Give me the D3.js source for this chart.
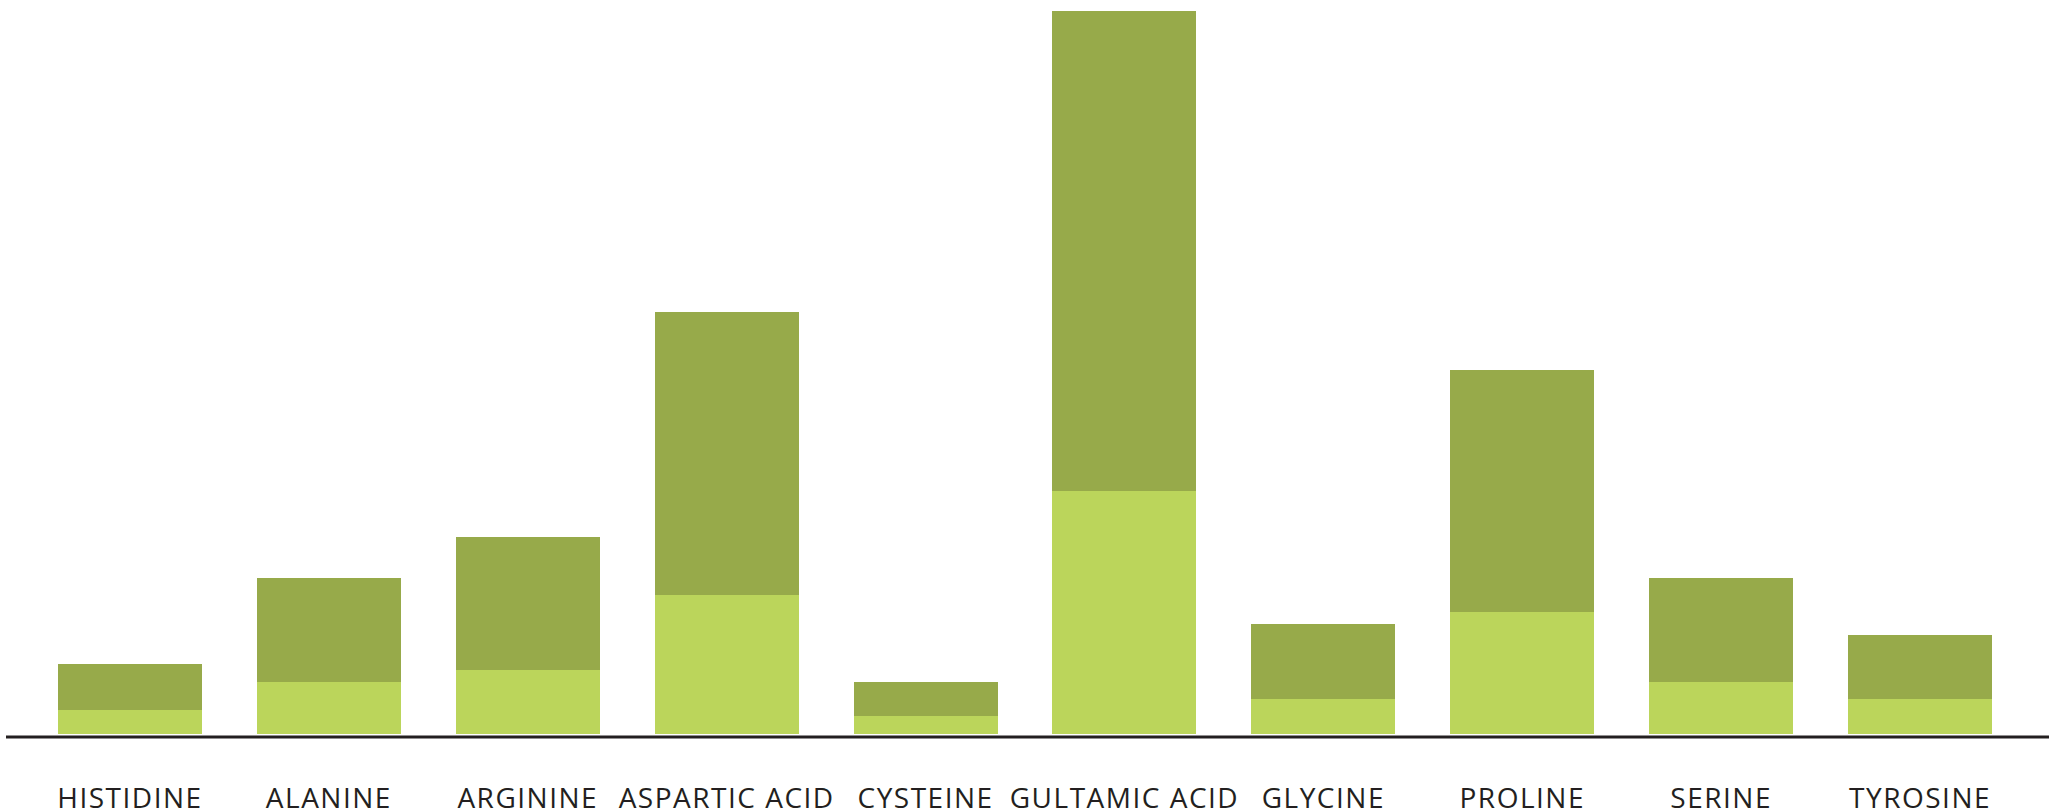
<!DOCTYPE html>
<html>
<head>
<meta charset="utf-8">
<script src="https://cdn.jsdelivr.net/npm/d3@7"></script>
<style>
  html, body { margin: 0; padding: 0; background: #ffffff; }
  svg { display: block; }
  .label { font-family: "Open Sans", "DejaVu Sans", sans-serif; font-size: 28px; fill: #231f20; letter-spacing: 1.5px; }
</style>
</head>
<body>
<svg id="chart" width="2049" height="812"></svg>
<script>
// Amino acids shown along the x axis
const categories = ["HISTIDINE", "ALANINE", "ARGININE", "ASPARTIC ACID", "CYSTEINE",
                    "GULTAMIC ACID", "GLYCINE", "PROLINE", "SERINE", "TYROSINE"];
// Lower (light) segment of each stack
const baseValues = [2.4, 5.2, 6.4, 13.9, 1.8, 24.3, 3.5, 12.2, 5.2, 3.5];
// Upper (dark) segment of each stack
const topValues = [4.6, 10.4, 13.3, 28.3, 3.4, 48.0, 7.5, 24.2, 10.4, 6.4];
const seriesKeys = ["base", "top"];
const seriesColors = ["#bbd55b", "#97aa4a"];

const svg = d3.select("#chart");
const width = 2049, height = 812;
const baseline = 734, plotTop = 11;

const rows = categories.map((c, i) => ({ name: c, base: baseValues[i], top: topValues[i] }));
const stacked = d3.stack().keys(seriesKeys)(rows);

const x = d3.scaleBand()
  .domain(categories)
  .range([30.5, 2019.5])
  .paddingInner(0.276)
  .paddingOuter(0.138);

const maxTotal = d3.max(rows, d => d.base + d.top);
const y = d3.scaleLinear().domain([0, maxTotal]).range([baseline, plotTop]);

const color = d3.scaleOrdinal().domain(seriesKeys).range(seriesColors);

svg.append("g")
  .selectAll("g")
  .data(stacked)
  .join("g")
    .attr("fill", d => color(d.key))
  .selectAll("rect")
  .data(d => d)
  .join("rect")
    .attr("x", d => x(d.data.name))
    .attr("width", x.bandwidth())
    .attr("y", d => y(d[1]))
    .attr("height", d => y(d[0]) - y(d[1]))
    .attr("shape-rendering", "crispEdges");

// Baseline axis with category labels
const axis = d3.axisBottom(x).tickSize(0).tickPadding(0);
const axisG = svg.append("g")
  .attr("transform", `translate(0, 737)`)
  .call(axis);
axisG.select(".domain").remove();
axisG.append("line")
  .attr("x1", 6).attr("x2", width)
  .attr("y1", 0).attr("y2", 0)
  .attr("stroke", "#231f20")
  .attr("stroke-width", 3);
axisG.selectAll(".tick text")
  .attr("class", "label")
  .attr("y", 71)
  .attr("dy", 0)
  .attr("font-size", null)
  .attr("font-family", null)
  .attr("fill", null);
axisG.attr("font-size", null).attr("font-family", null);
</script>
</body>
</html>
